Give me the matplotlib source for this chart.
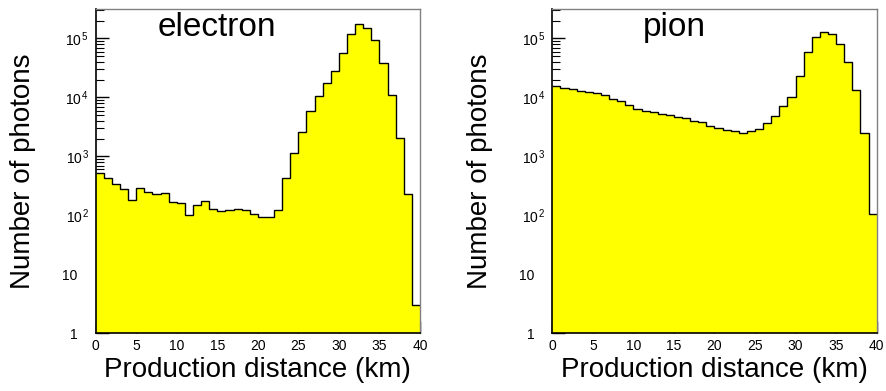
import numpy as np
import matplotlib
matplotlib.use("Agg")
import matplotlib.pyplot as plt
from matplotlib.ticker import FixedLocator, FixedFormatter, LogLocator, NullFormatter

plt.rcParams["font.family"] = ["Liberation Sans", "DejaVu Sans"]
plt.rcParams["mathtext.fontset"] = "custom"
plt.rcParams["mathtext.rm"] = "Liberation Sans"
plt.rcParams["mathtext.it"] = "Liberation Sans:italic"

# Bin edges (km), 40 bins of 1 km
edges = np.arange(0, 41, 1)

# Photon counts per bin
electron_counts = [515, 435, 344, 282, 181, 287, 245, 229, 235, 166,
                   159, 100, 148, 177, 129, 118, 123, 126, 122, 105,
                   95, 94, 123, 424, 1120, 2620, 5900, 10700, 17700, 27600,
                   57000, 121000, 173000, 152000, 93000, 39000, 11200, 2030, 233, 3]
pion_counts = [15700, 14500, 13800, 13100, 12400, 12000, 10800, 9300, 8700, 7300,
               6300, 5900, 5600, 5200, 5000, 4650, 4400, 4000, 3800, 3250,
               2980, 2760, 2650, 2460, 2650, 2870, 3630, 4900, 7100, 10100,
               22700, 58000, 106000, 129000, 120000, 80000, 40000, 13300, 2460, 106]

y_ticks = [1, 10, 100, 1000, 10000, 100000]
# trailing spaces keep "1" and "10" lined up with the base of the 10^n labels
y_labels = ["1   ", "10   ", r"$10^{\,2}$", r"$10^{\,3}$", r"$10^{\,4}$", r"$10^{\,5}$"]
x_ticks = [0, 5, 10, 15, 20, 25, 30, 35, 40]

panels = [("electron", electron_counts, 0.108), ("pion", pion_counts, 0.6234)]

fig = plt.figure(figsize=(8.86, 3.91), dpi=100)

for name, counts, left in panels:
    ax = fig.add_axes([left, 0.1476, 0.366, 0.829])

    # Filled histogram + black outline
    ax.stairs(counts, edges, fill=True, color="#ffff00", baseline=1, zorder=1)
    ax.stairs(counts, edges, color="black", linewidth=1.0, baseline=None, zorder=2)

    ax.set_yscale("log")
    ax.set_xlim(0, 40)
    ax.set_ylim(1, 3.14e5)

    ax.yaxis.set_major_locator(FixedLocator(y_ticks))
    ax.yaxis.set_major_formatter(FixedFormatter(y_labels))
    ax.yaxis.set_minor_locator(LogLocator(base=10, subs=np.arange(2, 10)))
    ax.yaxis.set_minor_formatter(NullFormatter())
    ax.set_xticks(x_ticks)
    ax.set_xticklabels([str(t) for t in x_ticks])

    # ROOT-like ticks: inside, hidden behind the fill
    ax.set_axisbelow(True)
    ax.tick_params(axis="y", which="major", direction="in", length=9.5, width=1,
                   labelsize=10, pad=4.5, right=False)
    ax.tick_params(axis="y", which="minor", direction="in", length=6, width=0.8,
                   right=False)
    ax.tick_params(axis="x", which="major", direction="in", length=9, width=1,
                   labelsize=10, pad=4, top=False)

    for s in ["top", "right"]:
        ax.spines[s].set_color("#808080")
        ax.spines[s].set_linewidth(1.0)
    for s in ["left", "bottom"]:
        ax.spines[s].set_color("black")
        ax.spines[s].set_linewidth(1.2)

    ax.text(0.375, 0.917, name, transform=ax.transAxes, ha="center",
            va="baseline", fontsize=24)
    ax.text(0.5, -0.134, "Production distance (km)", transform=ax.transAxes,
            ha="center", va="baseline", fontsize=20)
    ax.text(-0.224, 0.5, "Number of photons", transform=ax.transAxes,
            ha="center", va="center", rotation=90, fontsize=20)

plt.savefig("out.png", dpi=100)
